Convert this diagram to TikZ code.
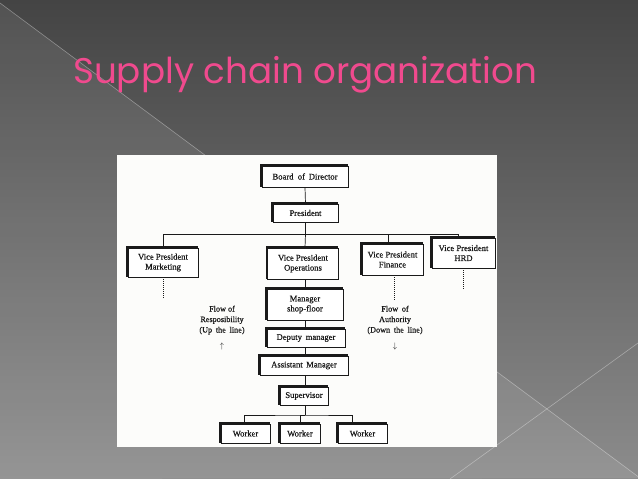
\documentclass[tikz,border=0pt]{standalone}
\usepackage{fontspec}
\setmainfont{Liberation Serif}
\newfontfamily\titlefont{Poppins}
\newfontfamily\boxfont[FakeBold=0.6]{Liberation Serif}
\usepackage{graphicx}
\definecolor{bgtop}{HTML}{444444}
\definecolor{bgbot}{HTML}{8C8C8C}
\definecolor{titlepink}{HTML}{F04A8E}
\definecolor{panelwhite}{HTML}{FCFCFA}
\definecolor{inkk}{HTML}{1A1A1A}
\tikzset{
  orgbox/.style={draw=inkk, line width=0.7pt, fill=white, inner sep=1pt,
    font=\boxfont\fontsize{8.6}{10}\selectfont, text=inkk, align=center, anchor=center,
    preaction={draw=inkk, line width=1.6pt, transform canvas={shift={(-1pt,1pt)}}}},
  link/.style={draw=inkk, line width=0.7pt},
  dotlink/.style={draw=inkk, line width=0.8pt, dash pattern=on 1pt off 1pt},
  flowtxt/.style={font=\boxfont\fontsize{8.2}{10.5}\selectfont, text=inkk, align=center},
  deco/.style={draw=white, opacity=0.35, line width=0.6pt}
}
\begin{document}
\begin{tikzpicture}[x=1pt,y=-1pt]
\useasboundingbox (0,0) rectangle (638,479);
% background
\shade[top color=bgtop, bottom color=bgbot] (0,0) rectangle (638,479);
\fill[white, opacity=0.08] (0,3) -- (640,478) -- (0,479) -- cycle;
\draw[deco] (0,3) -- (640,478);
\draw[deco] (450,479) -- (638,343);
% title
\node[anchor=base west, text=titlepink, inner sep=0pt] (title) at (73,84)
  {\resizebox{464pt}{!}{\titlefont\fontsize{38}{40}\selectfont Supply chain organization}};
% panel
\fill[panelwhite] (117,155) rectangle (497,447);
% boxes
\node[orgbox, minimum width=86pt, minimum height=21pt] (bod) at (305,176.5) {Board\hspace{0.25em} of\hspace{0.2em} Director};
\node[orgbox, minimum width=65pt, minimum height=18pt] (pres) at (305.5,213) {President};
\node[orgbox, minimum width=70pt, minimum height=29pt] (vpm) at (163,262.5) {Vice President\\Marketing};
\node[orgbox, minimum width=71pt, minimum height=31pt] (vpo) at (303,263.5) {Vice President\\Operations};
\node[orgbox, minimum width=61pt, minimum height=31pt] (vpf) at (392.5,259.5) {Vice President\\Finance};
\node[orgbox, minimum width=63pt, minimum height=30pt] (vph) at (463.5,253) {Vice President\\HRD};
\node[orgbox, minimum width=76pt, minimum height=31pt] (msf) at (305,304.5) {Manager\\shop-floor};
\node[orgbox, minimum width=78pt, minimum height=18pt] (dm) at (306,338) {Deputy\hspace{0.2em} manager};
\node[orgbox, minimum width=88pt, minimum height=19pt] (am) at (304,365.5) {Assistant\hspace{0.15em} Manager};
\node[orgbox, minimum width=48pt, minimum height=18pt] (sup) at (304,396) {Supervisor};
\node[orgbox, minimum width=49pt, minimum height=19pt] (w1) at (245.5,433.5) {Worker};
\node[orgbox, minimum width=40pt, minimum height=19pt] (w2) at (300,433.5) {Worker};
\node[orgbox, minimum width=49pt, minimum height=19pt] (w3) at (362.5,433.5) {Worker};
% flow texts
\node[flowtxt] (fr) at (222,320) {Flow of\\Resposibility\\(Up\hspace{0.2em} the\hspace{0.2em} line)};
\node[flowtxt] (frarrow) at (222,346) {$\uparrow$};
\node[flowtxt] (fa) at (395,320) {Flow\hspace{0.2em} of\\Authority\\(Down\hspace{0.2em} the\hspace{0.2em} line)};
\node[flowtxt] (faarrow) at (395,346) {$\downarrow$};
% connectors
\coordinate (bus) at (305,234);
\coordinate (wbus) at (305,415);
\path[link] (bod.south) -- (pres.north);
\path[link] (pres.south) -- (pres.south |- bus) -| (vpm.north);
\path[link] (pres.south |- bus) -| ([xshift=-4.5pt]vpf.north);
\path[link] (pres.south |- bus) -| ([xshift=-5.5pt]vph.north);
\path[link] (pres.south |- bus) -- ([xshift=2pt]vpo.north);
\path[link] ([xshift=2pt]vpo.south) -- (msf.north);
\path[link] (msf.south) -- (msf.south |- dm.north);
\path[link] (msf.south |- dm.south) -- (msf.south |- am.north);
\path[link] (msf.south |- am.south) -- (msf.south |- sup.north);
\path[link] (msf.south |- sup.south) -- (msf.south |- wbus);
\path[link] ([xshift=-1.5pt]w1.north) |- (wbus) -| ([xshift=-10.5pt]w3.north);
\path[link] (wbus) -- (wbus -| w2.north) -- (w2.north);
\path[dotlink] (vpm.south) -- ++(0,21);
\path[dotlink] ([xshift=1.5pt]vpf.south) -- ++(0,25);
\path[dotlink] (vph.south) -- ++(0,22);
\end{tikzpicture}
\end{document}
